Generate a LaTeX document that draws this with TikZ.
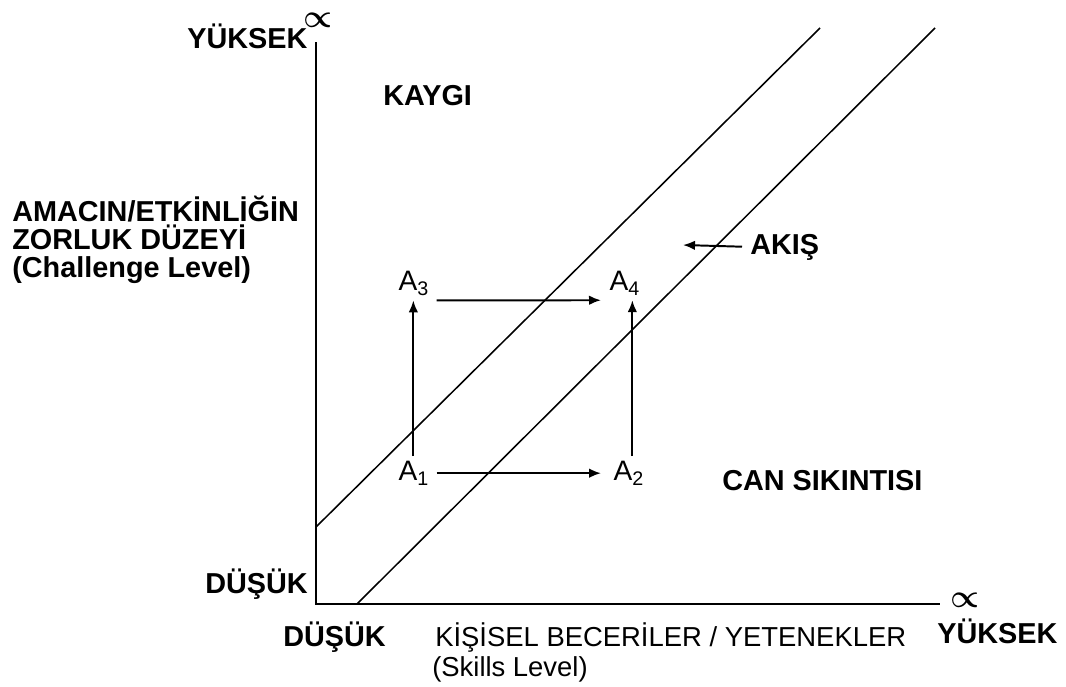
\documentclass[tikz,border=0pt]{standalone}
\usepackage{fontspec}
\setmainfont{Liberation Sans}
\usetikzlibrary{arrows.meta}

\newcommand{\sub}[1]{{\fontsize{14}{14}\selectfont\raisebox{-0.55ex}{#1}}}

\tikzset{
  lbl/.style={anchor=base west, inner sep=0pt, font=\fontsize{20.5}{20}\selectfont\bfseries},
  plain/.style={anchor=base west, inner sep=0pt, font=\fontsize{19.5}{20}\selectfont},
  pt/.style={anchor=base west, inner sep=3pt, font=\fontsize{20}{20}\selectfont},
  infty/.style={inner sep=0pt, anchor=south},
  arr/.style={line width=1.4pt, -{Latex[length=3mm,width=2.4mm]}},
  axis/.style={line width=1.8pt},
  band/.style={line width=1.1pt},
}

\begin{document}
\begin{tikzpicture}[x=0.025cm, y=-0.025cm]

  % picture frame (pixel grid, y downward)
  \useasboundingbox (0,0) rectangle (1066,686);

  % Axes
  \draw[axis] (316,42) -- (316,604) -- (940,604);
  \node[infty] (infy) at (318,28) {\scalebox{2.3}{\boldmath$\propto$}};
  \node[infty] (infx) at (965,608) {\scalebox{2.3}{\boldmath$\propto$}};

  % Flow channel
  \draw[band] (316,527) -- (820,28);
  \draw[band] (357,604) -- (935,28);

  % Axis labels
  \node[lbl] (yhigh) at (187,48) {YÜKSEK};
  \node[lbl] (ylow)  at (205,593) {DÜŞÜK};
  \node[lbl] (xlow)  at (283,646) {DÜŞÜK};
  \node[lbl] (xhigh) at (937,643) {YÜKSEK};
  \node[lbl] (ytit1) at (12,221) {AMACIN/ETKİNLİĞİN};
  \node[lbl] (ytit2) at (12,249) {ZORLUK DÜZEYİ};
  \node[lbl] (ytit3) at (12,277) {(Challenge Level)};
  \node[plain] (xtit1) at (435,646) {KİŞİSEL BECERİLER / YETENEKLER};
  \node[plain] (xtit2) at (432,676) {(Skills Level)};

  % Regions
  \node[lbl] (kaygi) at (383,105) {KAYGI};
  \node[lbl] (can)   at (722,490) {CAN SIKINTISI};
  \node[lbl] (akis)  at (750,254) {AKIŞ};
  \coordinate (akistip) at (683,245);

  % States
  \node[pt] (a1) at (394,480) {A\sub{1}};
  \node[pt] (a2) at (609,480) {A\sub{2}};
  \node[pt] (a3) at (394,290) {A\sub{3}};
  \node[pt] (a4) at (605,290) {A\sub{4}};

  % Moves
  \draw[arr] (a1.north) -- (a1.north |- a3.south);
  \draw[arr] ([xshift=1mm]a2.north) -- ([xshift=1mm]a2.north |- a4.south);
  \draw[arr, shorten <=1mm, shorten >=2mm] (a1.east) -- (a2.west);
  \draw[arr, shorten <=1mm, shorten >=1mm] (a3.south east) -- (a4.south west);
  \draw[arr, shorten <=2mm] (akis.west) -- (akistip);

\end{tikzpicture}
\end{document}
